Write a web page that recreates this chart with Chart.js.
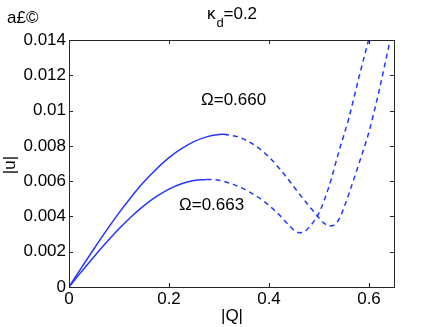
<!DOCTYPE html>
<html>
<head>
<meta charset="utf-8">
<script src="https://cdn.jsdelivr.net/npm/chart.js@4.4.1/dist/chart.umd.min.js"></script>
<style>
  body { margin: 0; background: #fff; }
</style>
</head>
<body>
<canvas id="chart" width="436" height="327"></canvas>
<script>
// Omega = 0.660, stable (solid) and unstable (dashed) branches
const q660Solid = [0, 0.025, 0.05, 0.075, 0.1, 0.125, 0.15, 0.175, 0.2, 0.225, 0.25, 0.275, 0.3, 0.31]
const u660Solid = [0, 0.0011, 0.00217, 0.00321, 0.0042, 0.00512, 0.00596, 0.00669, 0.00733, 0.00784, 0.00824, 0.00851, 0.00864, 0.00866]
const q660Dash = [0.31, 0.34, 0.37, 0.4, 0.43, 0.46, 0.48, 0.5, 0.51, 0.52, 0.53, 0.54, 0.55, 0.56, 0.58, 0.6, 0.62, 0.64, 0.65]
const u660Dash = [0.00866, 0.00849, 0.00806, 0.00737, 0.0064, 0.0053, 0.0046, 0.00392, 0.00362, 0.00346, 0.0035, 0.00385, 0.0045, 0.0053, 0.0070, 0.0088, 0.0111, 0.0137, 0.015]

// Omega = 0.663
const q663Solid = [0, 0.025, 0.05, 0.075, 0.1, 0.125, 0.15, 0.175, 0.2, 0.225, 0.25, 0.275]
const u663Solid = [0, 0.00087, 0.00172, 0.00253, 0.0033, 0.004, 0.00461, 0.00513, 0.00555, 0.00585, 0.00604, 0.0061]
const q663Dash = [0.275, 0.3, 0.33, 0.36, 0.39, 0.42, 0.44, 0.45, 0.46, 0.47, 0.48, 0.5, 0.52, 0.54, 0.56, 0.58, 0.6, 0.62]
const u663Dash = [0.0061, 0.00605, 0.0058, 0.0054, 0.00485, 0.0041, 0.0035, 0.00322, 0.00308, 0.00312, 0.00338, 0.0042, 0.0057, 0.0077, 0.0096, 0.0119, 0.0141, 0.0165]

const xTicks = [0, 0.2, 0.4, 0.6]
const yTicks = [0, 0.002, 0.004, 0.006, 0.008, 0.01, 0.012, 0.014]

const blue = 'rgb(35,55,255)'
const font = '"Liberation Sans", Arial, sans-serif'

const pts = (xs, ys) => xs.map((x, i) => ({ x, y: ys[i] }))
const line = (xs, ys, dashed) => ({
    data: pts(xs, ys),
    borderColor: blue,
    borderWidth: 1.5,
    borderDash: dashed ? [5, 4] : [],
    pointRadius: 0,
    cubicInterpolationMode: 'monotone',
    fill: false
})

// box round the plot, inward ticks and the free texts
const decor = {
    id: 'decor',
    afterDatasetsDraw(chart) {
        const { ctx, chartArea: a, scales: { x, y } } = chart
        ctx.save()
        ctx.strokeStyle = '#262626'
        ctx.lineWidth = 1
        ctx.strokeRect(a.left + 0.5, a.top + 0.5, a.right - a.left, a.bottom - a.top)
        ctx.beginPath()
        xTicks.forEach(v => {
            const px = Math.round(x.getPixelForValue(v)) + 0.5
            ctx.moveTo(px, a.bottom); ctx.lineTo(px, a.bottom - 4)
            ctx.moveTo(px, a.top); ctx.lineTo(px, a.top + 4)
        })
        yTicks.forEach(v => {
            const py = Math.round(y.getPixelForValue(v)) + 0.5
            ctx.moveTo(a.left, py); ctx.lineTo(a.left + 4, py)
            ctx.moveTo(a.right, py); ctx.lineTo(a.right - 4, py)
        })
        ctx.stroke()

        ctx.fillStyle = '#000'
        ctx.textBaseline = 'alphabetic'
        ctx.font = '17px ' + font
        ctx.textAlign = 'left'
        ctx.fillText('a£©', 7, 23)

        // title: kappa_d=0.2
        ctx.fillText('κ', 207, 18.5)
        ctx.font = '13px ' + font
        ctx.fillText('d', 216.5, 27)
        ctx.font = '17px ' + font
        ctx.fillText('=0.2', 223.5, 18.5)

        ctx.fillText('Ω=0.660', 201, 105)
        ctx.fillText('Ω=0.663', 179, 210)

        ctx.textAlign = 'center'
        ctx.fillText('|Q|', 232, 321)
        ctx.translate(15, 165)
        ctx.rotate(-Math.PI / 2)
        ctx.fillText('|u|', 0, 0)
        ctx.restore()
    }
}

new Chart(document.getElementById('chart'), {
    type: 'line',
    data: {
        datasets: [
            line(q660Solid, u660Solid, false),
            line(q660Dash, u660Dash, true),
            line(q663Solid, u663Solid, false),
            line(q663Dash, u663Dash, true)
        ]
    },
    options: {
        responsive: false,
        animation: false,
        devicePixelRatio: 1,
        layout: { padding: { top: 40, right: 42, left: 0, bottom: 0 } },
        plugins: { legend: { display: false }, tooltip: { enabled: false } },
        scales: {
            x: {
                type: 'linear',
                min: 0,
                max: 0.65,
                grid: { display: false, drawTicks: false },
                border: { display: false },
                afterBuildTicks: s => { s.ticks = xTicks.map(value => ({ value })) },
                afterFit: s => { s.height = 40 },
                ticks: {
                    padding: 2,
                    color: '#000',
                    font: { family: font, size: 17 },
                    maxRotation: 0,
                    callback: v => String(v)
                }
            },
            y: {
                min: 0,
                max: 0.014,
                grid: { display: false, drawTicks: false },
                border: { display: false },
                afterBuildTicks: s => { s.ticks = yTicks.map(value => ({ value })) },
                afterFit: s => { s.width = 69 },
                ticks: {
                    padding: 3,
                    color: '#000',
                    font: { family: font, size: 17 },
                    callback: v => String(v)
                }
            }
        }
    },
    plugins: [decor]
})
</script>
</body>
</html>
